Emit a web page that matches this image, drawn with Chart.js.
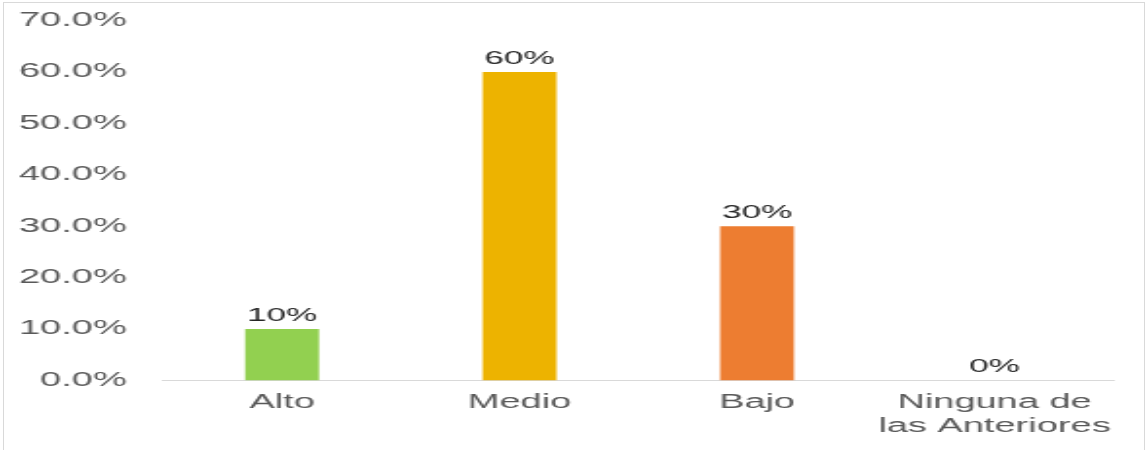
<!DOCTYPE html>
<html>
<head>
<meta charset="utf-8">
<script src="https://cdn.jsdelivr.net/npm/chart.js@4/dist/chart.umd.min.js"></script>
<style>
  html, body { margin: 0; padding: 0; background: #fff; overflow: hidden; }
  #frame {
    position: absolute; left: 3px; top: 2px; width: 1142px; height: 460px;
    border: 1px solid #d9d9d9; box-sizing: border-box;
  }
  #stretch {
    position: absolute; left: 0; top: 0; width: 589px; height: 450px;
    transform: scaleX(1.949); transform-origin: 0 0;
  }
</style>
</head>
<body>
<div id="frame"></div>
<div id="stretch"><canvas id="chart" width="589" height="450"></canvas></div>
<script>
// Nivel de respuesta por categoría (porcentaje)
const categories = ['Alto', 'Medio', 'Bajo', ['Ninguna de', 'las Anteriores']];
const values = [10, 60, 30, 0];
const valueLabels = ['10%', '60%', '30%', '0%'];
const barColors = ['#92D050', '#EDB300', '#ED7D31', '#5B9BD5'];
const yTicks = [0, 10, 20, 30, 40, 50, 60, 70];

const FONT = 'Liberation Sans, Arial, sans-serif';

// Etiquetas de valor sobre cada barra
const valueLabelPlugin = {
  id: 'valueLabels',
  afterDatasetsDraw(chart) {
    const ctx = chart.ctx;
    const meta = chart.getDatasetMeta(0);
    ctx.save();
    ctx.font = '18px ' + FONT;
    ctx.fillStyle = '#262626';
    ctx.textAlign = 'center';
    ctx.textBaseline = 'bottom';
    meta.data.forEach((bar, i) => {
      ctx.fillText(valueLabels[i], bar.x, bar.y - 4);
    });
    ctx.restore();
  }
};

new Chart(document.getElementById('chart'), {
  type: 'bar',
  data: {
    labels: categories,
    datasets: [{
      data: values,
      backgroundColor: barColors,
      borderWidth: 0,
      barPercentage: 0.311,
      categoryPercentage: 1
    }]
  },
  options: {
    responsive: false,
    devicePixelRatio: 1,
    animation: false,
    layout: { padding: { top: 20.5, right: 17.8, left: 2.8, bottom: 0 } },
    plugins: { legend: { display: false }, tooltip: { enabled: false } },
    scales: {
      x: {
        grid: { display: false, drawTicks: false },
        border: { display: true, color: '#d9d9d9', width: 1 },
        ticks: {
          color: '#595959',
          font: { family: FONT, size: 19.5, lineHeight: 1.23 },
          padding: 10,
          maxRotation: 0,
          autoSkip: false
        },
        afterFit(scale) { scale.height = 69.5; }
      },
      y: {
        min: 0,
        max: 70,
        grid: { display: false, drawTicks: false },
        border: { display: false },
        afterBuildTicks(scale) { scale.ticks = yTicks.map(v => ({ value: v })); },
        ticks: {
          color: '#595959',
          font: { family: FONT, size: 19.5, lineHeight: 1.2 },
          padding: 18.8,
          callback: v => v.toFixed(1) + '%'
        },
        afterFit(scale) {
          scale.width = 81;
          scale.paddingTop = 0;
          scale.paddingBottom = 0;
        }
      }
    }
  },
  plugins: [valueLabelPlugin]
});
</script>
</body>
</html>
